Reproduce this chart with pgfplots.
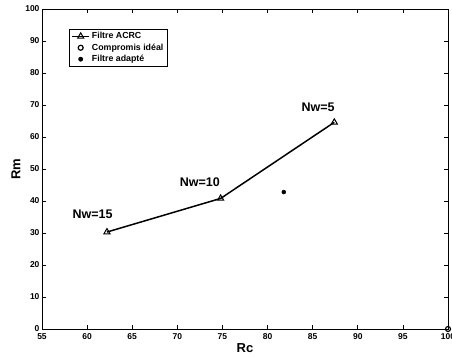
\documentclass[border=0pt]{standalone}
\usepackage{pgfplots}
\pgfplotsset{compat=1.18}
\usepackage{fontspec}
\setmainfont{Liberation Sans}
\begin{document}
\begin{tikzpicture}
\begin{axis}[
  scale only axis, width=406pt, height=320pt,
  xmin=55, xmax=100, ymin=0, ymax=100,
  xtick={55,60,...,100}, ytick={0,10,...,100},
  tick align=inside, xtick pos=both, ytick pos=both,
  major tick length=4pt,
  axis line style={line width=0.9pt},
  tick style={line width=0.6pt, black},
  /pgf/number format/assume math mode=true,
  tick label style={font=\fontsize{8.5}{9.5}\selectfont\bfseries},
  xticklabel style={yshift=-1pt},
  yticklabel style={xshift=1pt},
  xlabel={Rc}, ylabel={Rm},
  label style={font=\fontsize{13}{15}\selectfont\bfseries},
  xlabel style={yshift=3pt},
  ylabel style={yshift=-2pt},
  clip=false,
  legend style={at={(rel axis cs:0.0665,0.9375)}, anchor=north west,
    font=\fontsize{8.8}{10}\selectfont\bfseries, draw=black, line width=0.8pt,
    inner xsep=2pt, inner ysep=1pt, row sep=-0.5pt},
  legend cell align=left,
]
\addplot[black, line width=1.5pt, mark=triangle, mark size=3.5pt, mark options={solid, line width=1pt}]
  coordinates {(62.2,30.3) (74.8,40.8) (87.4,64.6)};
\addlegendentry{Filtre ACRC}
\addplot[only marks, black, mark=o, mark size=2.5pt, mark options={line width=1.2pt}]
  coordinates {(100,0)};
\addlegendentry{Compromis idéal}
\addplot[only marks, black, mark=*, mark size=2pt]
  coordinates {(81.8,42.8)};
\addlegendentry{Filtre adapté}
\node[font=\fontsize{12.5}{14}\selectfont\bfseries] at (axis cs:60.6,36) {Nw=15};
\node[font=\fontsize{12.5}{14}\selectfont\bfseries] at (axis cs:72.5,46) {Nw=10};
\node[font=\fontsize{12.5}{14}\selectfont\bfseries] at (axis cs:85.6,69.4) {Nw=5};
\coordinate (SW) at (rel axis cs:0,0);
\coordinate (NE) at (rel axis cs:1,1);
\end{axis}
\pgfresetboundingbox
\path[use as bounding box] ([xshift=-42pt,yshift=-29pt]SW) rectangle ([xshift=4pt,yshift=9pt]NE);
\end{tikzpicture}
\end{document}
